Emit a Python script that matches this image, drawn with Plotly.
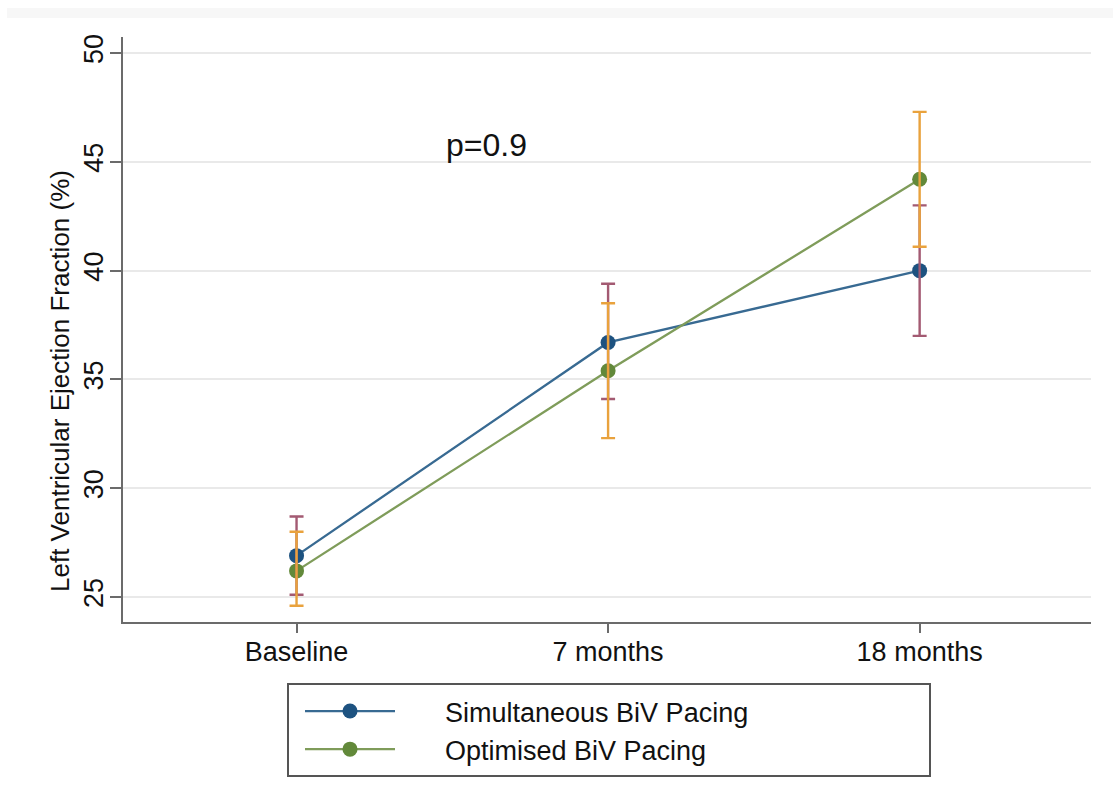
import plotly.graph_objects as go

timepoints = ["Baseline", "7 months", "18 months"]
series_names = ["Simultaneous BiV Pacing", "Optimised BiV Pacing"]

sim_mean = [26.9, 36.7, 40.0]
sim_upper = [28.7, 39.4, 43.0]
sim_lower = [25.1, 34.1, 37.0]

opt_mean = [26.2, 35.4, 44.2]
opt_upper = [28.0, 38.5, 47.3]
opt_lower = [24.6, 32.3, 41.1]

y_ticks = [25, 30, 35, 40, 45, 50]
p_text = "p=0.9"
y_title = "Left Ventricular Ejection Fraction (%)"

FONT = "Liberation Sans, Arial, Helvetica, sans-serif"
BLUE_LINE = "#386a92"
BLUE_MARK = "#1d5280"
GREEN_LINE = "#7f9c5a"
GREEN_MARK = "#62893a"
MAROON = "#a35a72"
ORANGE = "#e9a23d"
TXT = "#111111"
PAD = "\u00a0" * 6

x_idx = list(range(len(timepoints)))

fig = go.Figure()

fig.add_trace(go.Scatter(
    x=x_idx, y=sim_mean, mode="lines+markers", name=PAD + series_names[0],
    line=dict(color=BLUE_LINE, width=2.3),
    marker=dict(color=BLUE_MARK, size=15, line=dict(width=0)),
))
fig.add_trace(go.Scatter(
    x=x_idx, y=opt_mean, mode="lines+markers", name=PAD + series_names[1],
    line=dict(color=GREEN_LINE, width=2.3),
    marker=dict(color=GREEN_MARK, size=15, line=dict(width=0)),
))

fig.add_trace(go.Scatter(
    x=x_idx, y=sim_mean, mode="markers", showlegend=False, hoverinfo="skip",
    marker=dict(size=1, opacity=0),
    error_y=dict(type="data", symmetric=False,
                 array=[u - m for u, m in zip(sim_upper, sim_mean)],
                 arrayminus=[m - l for m, l in zip(sim_mean, sim_lower)],
                 color=MAROON, thickness=2.4, width=7),
))
fig.add_trace(go.Scatter(
    x=x_idx, y=opt_mean, mode="markers", showlegend=False, hoverinfo="skip",
    marker=dict(size=1, opacity=0),
    error_y=dict(type="data", symmetric=False,
                 array=[u - m for u, m in zip(opt_upper, opt_mean)],
                 arrayminus=[m - l for m, l in zip(opt_mean, opt_lower)],
                 color=ORANGE, thickness=2.4, width=7),
))

# plot area: x 123..1091, y 37..622
W, H = 1113, 808
L, R, T, B = 123, 1091, 37, 622
pw, ph = R - L, B - T

def px(x):
    return (x - L) / pw

def py(y):
    return (B - y) / ph

fig.update_layout(
    width=W, height=H,
    margin=dict(l=L, r=W - R, t=T, b=H - B, pad=0),
    paper_bgcolor="white", plot_bgcolor="white",
    font=dict(family=FONT, size=27, color=TXT),
    showlegend=True,
    legend=dict(
        x=px(300), y=py(687), xanchor="left", yanchor="top",
        bgcolor="rgba(0,0,0,0)", borderwidth=0,
        font=dict(family=FONT, size=27, color=TXT),
        itemwidth=90, tracegroupgap=0,
    ),
    xaxis=dict(
        tickmode="array", tickvals=x_idx, ticktext=timepoints,
        range=[-0.557, 2.55], showgrid=False, zeroline=False,
        showline=True, linecolor="#6b6b6b", linewidth=2,
        ticks="outside", ticklen=9, tickwidth=2, tickcolor="#6b6b6b",
        tickfont=dict(family=FONT, size=27, color=TXT),
        ticklabelstandoff=-4,
    ),
    yaxis=dict(
        tickmode="array", tickvals=y_ticks,
        range=[23.85, 50.74], showgrid=True, gridcolor="#e9e9e9", gridwidth=2,
        zeroline=False, showline=True, linecolor="#6b6b6b", linewidth=2,
        ticks="outside", ticklen=11, tickwidth=2, tickcolor="#6b6b6b",
        tickangle=-90,
        tickfont=dict(family=FONT, size=27, color=TXT),
        ticklabelstandoff=-4,
    ),
    shapes=[
        dict(type="rect", xref="paper", yref="paper",
             x0=px(288), x1=px(930), y0=py(776), y1=py(684),
             line=dict(color="#555555", width=2), fillcolor="rgba(0,0,0,0)"),
        dict(type="rect", xref="paper", yref="paper",
             x0=px(7), x1=px(1113), y0=py(18), y1=py(8),
             line=dict(width=0), fillcolor="#f7f7f7", layer="below"),
    ],
    annotations=[
        dict(text=p_text, xref="paper", yref="paper", x=px(486), y=py(145),
             xanchor="center", yanchor="middle", showarrow=False,
             font=dict(family=FONT, size=32, color=TXT)),
        dict(text=y_title, xref="paper", yref="paper", x=px(60), y=py(381),
             xanchor="center", yanchor="middle", showarrow=False, textangle=-90,
             font=dict(family=FONT, size=26, color=TXT)),
    ],
)

fig.write_html("out.html")
